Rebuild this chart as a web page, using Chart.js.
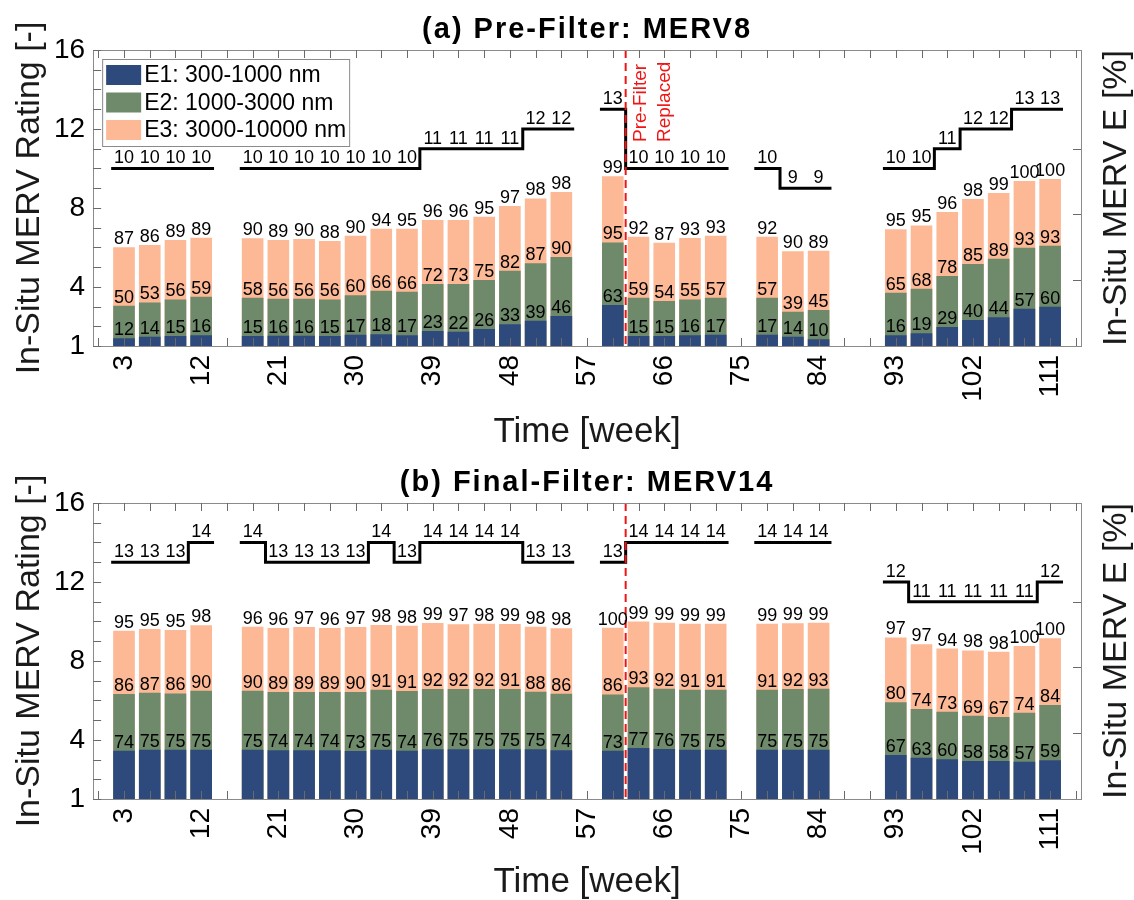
<!DOCTYPE html>
<html>
<head>
<meta charset="utf-8">
<script src="https://cdn.jsdelivr.net/npm/chart.js@4.4.1/dist/chart.umd.min.js"></script>
<style>
  body { margin: 0; background: #fff; }
  canvas { display: block; }
</style>
</head>
<body>
<canvas id="chartA" width="1134" height="450"></canvas>
<canvas id="chartB" width="1134" height="450"></canvas>
<script>
// weeks at which filters were measured (one bar per measurement)
var weeks = [3, 6, 9, 12, 18, 21, 24, 27, 30, 33, 36, 39, 42, 45, 48, 51, 54, 60, 63, 66, 69, 72, 78, 81, 84, 93, 96, 99, 102, 105, 108, 111];

// axis ticks
var xTickVals = [0, 3, 6, 9, 12, 15, 18, 21, 24, 27, 30, 33, 36, 39, 42, 45, 48, 51, 54, 57, 60, 63, 66, 69, 72, 75, 78, 81, 84, 87, 90, 93, 96, 99, 102, 105, 108, 111, 114];
var xLabelVals = [3, 12, 21, 30, 39, 48, 57, 66, 75, 84, 93, 102, 111];
var yTickVals = [1, 2, 3, 4, 5, 6, 7, 8, 9, 10, 11, 12, 13, 14, 15, 16];
var yLabelVals = [1, 4, 8, 12, 16];
var rightTickVals = [20, 40, 60]; // right axis (MERV E %), unlabeled
var replacedWeek = 61.5; // pre-filter replaced

// (a) Pre-Filter: bar tops on the rating axis
var topE1A = [1.39, 1.47, 1.50, 1.55, 1.50, 1.52, 1.52, 1.50, 1.57, 1.60, 1.55, 1.76, 1.72, 1.86, 2.10, 2.28, 2.52, 3.08, 1.50, 1.50, 1.54, 1.57, 1.57, 1.47, 1.34, 1.54, 1.64, 1.96, 2.32, 2.45, 2.89, 2.99];
var topE2A = [3.04, 3.21, 3.36, 3.50, 3.45, 3.40, 3.40, 3.36, 3.57, 3.80, 3.75, 4.14, 4.14, 4.34, 4.81, 5.19, 5.51, 6.25, 3.45, 3.28, 3.36, 3.45, 3.45, 2.74, 2.82, 3.70, 3.90, 4.55, 5.15, 5.42, 5.98, 6.08];
var topE3A = [6.00, 6.12, 6.37, 6.49, 6.46, 6.37, 6.42, 6.32, 6.59, 6.94, 6.94, 7.38, 7.38, 7.55, 8.09, 8.48, 8.80, 9.60, 6.54, 6.23, 6.47, 6.59, 6.54, 5.80, 5.83, 6.91, 7.11, 7.79, 8.45, 8.75, 9.36, 9.46];
// (a) efficiencies [%] printed on the bars
var e1LabA = [12, 14, 15, 16, 15, 16, 16, 15, 17, 18, 17, 23, 22, 26, 33, 39, 46, 63, 15, 15, 16, 17, 17, 14, 10, 16, 19, 29, 40, 44, 57, 60];
var e2LabA = [50, 53, 56, 59, 58, 56, 56, 56, 60, 66, 66, 72, 73, 75, 82, 87, 90, 95, 59, 54, 55, 57, 57, 39, 45, 65, 68, 78, 85, 89, 93, 93];
var e3LabA = [87, 86, 89, 89, 90, 89, 90, 88, 90, 94, 95, 96, 96, 95, 97, 98, 98, 99, 92, 87, 93, 93, 92, 90, 89, 95, 95, 96, 98, 99, 100, 100];
// (a) in-situ MERV rating
var mervA = [10, 10, 10, 10, 10, 10, 10, 10, 10, 10, 10, 11, 11, 11, 11, 12, 12, 13, 10, 10, 10, 10, 10, 9, 9, 10, 10, 11, 12, 12, 13, 13];

// (b) Final-Filter: bar tops on the rating axis
var topE1B = [3.45, 3.50, 3.50, 3.50, 3.50, 3.47, 3.47, 3.47, 3.43, 3.50, 3.45, 3.52, 3.52, 3.52, 3.52, 3.52, 3.47, 3.45, 3.58, 3.53, 3.50, 3.50, 3.50, 3.50, 3.50, 3.23, 3.09, 3.01, 2.92, 2.92, 2.89, 2.96];
var topE2B = [6.32, 6.39, 6.35, 6.49, 6.49, 6.42, 6.42, 6.42, 6.42, 6.54, 6.47, 6.57, 6.57, 6.57, 6.57, 6.44, 6.33, 6.30, 6.66, 6.59, 6.54, 6.54, 6.54, 6.57, 6.59, 5.90, 5.56, 5.42, 5.22, 5.15, 5.37, 5.76];
var topE3B = [9.53, 9.61, 9.56, 9.80, 9.73, 9.66, 9.71, 9.66, 9.71, 9.82, 9.78, 9.92, 9.85, 9.88, 9.87, 9.73, 9.65, 9.68, 9.99, 9.93, 9.88, 9.88, 9.88, 9.90, 9.93, 9.19, 8.84, 8.62, 8.53, 8.46, 8.75, 9.14];
var e1LabB = [74, 75, 75, 75, 75, 74, 74, 74, 73, 75, 74, 76, 75, 75, 75, 75, 74, 73, 77, 76, 75, 75, 75, 75, 75, 67, 63, 60, 58, 58, 57, 59];
var e2LabB = [86, 87, 86, 90, 90, 89, 89, 89, 90, 91, 91, 92, 92, 92, 91, 88, 86, 86, 93, 92, 91, 91, 91, 92, 93, 80, 74, 73, 69, 67, 74, 84];
var e3LabB = [95, 95, 95, 98, 96, 96, 97, 96, 97, 98, 98, 99, 97, 98, 99, 98, 98, 100, 99, 99, 99, 99, 99, 99, 99, 97, 97, 94, 98, 98, 100, 100];
var mervB = [13, 13, 13, 14, 14, 13, 13, 13, 13, 14, 13, 14, 14, 14, 14, 13, 13, 13, 14, 14, 14, 14, 14, 14, 14, 12, 11, 11, 11, 11, 11, 12];

var colE1 = '#2e4a7c';
var colE2 = '#6e8a6b';
var colE3 = '#fdb896';
var FONT = '"Liberation Sans", Arial, Helvetica, sans-serif';

function makeChart(id, panel) {
  // step line: flat over each bar, broken between measurement campaigns
  var steps = [];
  for (var i = 0; i < weeks.length; i++) {
    steps.push({x: weeks[i] - 1.5, y: panel.merv[i]});
    steps.push({x: weeks[i] + 1.5, y: panel.merv[i]});
    if (i < weeks.length - 1 && weeks[i + 1] - weeks[i] > 3) steps.push({x: weeks[i] + 2, y: null});
  }

  function bars(label, tops, color, order) {
    return {
      type: 'bar', label: label, yAxisID: 'y',
      data: weeks.map(function(w, i) { return {x: w, y: tops[i]}; }),
      backgroundColor: color, borderWidth: 0, base: 1, grouped: false,
      categoryPercentage: 1, barPercentage: 0.84, order: order
    };
  }

  var decor = {
    id: 'decor',
    afterDatasetsDraw: function(chart) {
      var ctx = chart.ctx, a = chart.chartArea;
      var xs = chart.scales.x, ys = chart.scales.y, y2 = chart.scales.y2;
      ctx.save();

      // red dashed replacement line
      var rx = xs.getPixelForValue(replacedWeek);
      ctx.strokeStyle = '#f01515'; ctx.lineWidth = 2; ctx.setLineDash([8, 5]);
      ctx.beginPath(); ctx.moveTo(rx, a.top); ctx.lineTo(rx, a.bottom); ctx.stroke();
      ctx.setLineDash([]);

      // frame + inward ticks
      ctx.strokeStyle = '#8a8a8a'; ctx.lineWidth = 1;
      ctx.strokeRect(Math.round(a.left) + 0.5, Math.round(a.top) + 0.5, Math.round(a.right - a.left), Math.round(a.bottom - a.top));
      ctx.strokeStyle = '#6a6a6a';
      ctx.beginPath();
      xTickVals.forEach(function(v) {
        var px = Math.round(xs.getPixelForValue(v)) + 0.5;
        ctx.moveTo(px, a.bottom); ctx.lineTo(px, a.bottom - 8);
        ctx.moveTo(px, a.top); ctx.lineTo(px, a.top + 8);
      });
      yTickVals.forEach(function(v) {
        var py = Math.round(ys.getPixelForValue(v)) + 0.5;
        ctx.moveTo(a.left, py); ctx.lineTo(a.left + 8, py);
      });
      rightTickVals.forEach(function(v) {
        var py = Math.round(y2.getPixelForValue(v)) + 0.5;
        ctx.moveTo(a.right, py); ctx.lineTo(a.right - 8, py);
      });
      ctx.stroke();

      // value labels on bars
      ctx.fillStyle = '#000';
      ctx.font = '18px ' + FONT;
      ctx.textAlign = 'center';
      ctx.textBaseline = 'alphabetic';
      [panel.lab1, panel.lab2, panel.lab3].forEach(function(labs, di) {
        var meta = chart.getDatasetMeta(di);
        meta.data.forEach(function(el, j) {
          ctx.fillText(String(labs[j]), el.x, el.y - 3);
        });
      });
      // MERV rating labels over the step line
      weeks.forEach(function(w, i) {
        ctx.fillText(String(panel.merv[i]), xs.getPixelForValue(w), ys.getPixelForValue(panel.merv[i]) - 5);
      });

      // panel title
      ctx.save();
      ctx.font = 'bold 29px ' + FONT;
      ctx.letterSpacing = '2px';
      ctx.textBaseline = 'middle';
      ctx.fillText(panel.title, (a.left + a.right) / 2, a.top - 20);
      ctx.restore();

      // right axis title
      ctx.save();
      ctx.translate(a.right + 36, (a.top + a.bottom) / 2);
      ctx.rotate(-Math.PI / 2);
      ctx.font = '34px ' + FONT;
      ctx.fillStyle = '#1a1a1a';
      ctx.textAlign = 'center';
      ctx.textBaseline = 'middle';
      ctx.fillText('In-Situ MERV E [%]', 0, 0);
      ctx.restore();

      if (panel.note) {
        ctx.fillStyle = '#f01515';
        ctx.font = '19px ' + FONT;
        ctx.textAlign = 'left';
        ctx.textBaseline = 'middle';
        [['Pre-Filter', 15], ['Replaced', 39]].forEach(function(t) {
          ctx.save();
          ctx.translate(rx + t[1], a.top + 92);
          ctx.rotate(-Math.PI / 2);
          ctx.fillText(t[0], 0, 0);
          ctx.restore();
        });
      }

      if (panel.legend) {
        var lx = a.left + 9, ly = a.top + 9;
        ctx.fillStyle = '#fff';
        ctx.fillRect(lx, ly, 247, 87);
        ctx.strokeStyle = '#8a8a8a';
        ctx.strokeRect(lx + 0.5, ly + 0.5, 247, 87);
        ctx.font = '23px ' + FONT;
        ctx.textAlign = 'left';
        ctx.textBaseline = 'middle';
        for (var k = 0; k < 3; k++) {
          var ds = chart.data.datasets[k];
          var cy = ly + 16 + k * 27.5;
          ctx.fillStyle = ds.backgroundColor;
          ctx.fillRect(lx + 4, cy - 10, 35, 20);
          ctx.fillStyle = '#000';
          ctx.fillText(ds.label, lx + 42, cy + 1);
        }
      }
      ctx.restore();
    }
  };

  return new Chart(document.getElementById(id), {
    type: 'bar',
    data: {
      datasets: [
        bars('E1: 300-1000 nm', panel.top1, colE1, 2),
        bars('E2: 1000-3000 nm', panel.top2, colE2, 3),
        bars('E3: 3000-10000 nm', panel.top3, colE3, 4),
        {type: 'line', label: 'MERV', yAxisID: 'y', data: steps, borderColor: '#000', borderWidth: 3,
         pointRadius: 0, spanGaps: false, tension: 0, order: 1}
      ]
    },
    options: {
      responsive: false,
      animation: false,
      devicePixelRatio: 1,
      layout: {padding: {left: 8, right: 53, top: panel.padTop, bottom: 0}},
      plugins: {legend: {display: false}, tooltip: {enabled: false}},
      scales: {
        x: {
          type: 'linear', min: -0.6, max: 114.6, offset: false,
          grid: {display: false, drawTicks: false}, border: {display: false},
          afterBuildTicks: function(s) { s.ticks = xTickVals.map(function(v) { return {value: v}; }); },
          ticks: {autoSkip: false, minRotation: 90, maxRotation: 90, padding: 9, color: '#000',
                  font: {size: 28, family: FONT},
                  callback: function(v) { return xLabelVals.indexOf(v) >= 0 ? String(v) : ''; }},
          title: {display: true, text: 'Time [week]', color: '#1a1a1a', font: {size: 35, family: FONT, lineHeight: 1},
                  padding: {top: panel.xTitlePad, bottom: 0}}
        },
        y: {
          min: 1, max: 16,
          grid: {display: false, drawTicks: false}, border: {display: false},
          afterBuildTicks: function(s) { s.ticks = yTickVals.map(function(v) { return {value: v}; }); },
          ticks: {autoSkip: false, padding: 8, color: '#000', font: {size: 28, family: FONT},
                  callback: function(v) { return yLabelVals.indexOf(v) >= 0 ? String(v) : ''; }},
          title: {display: true, text: 'In-Situ MERV Rating [-]', color: '#1a1a1a', font: {size: 34, family: FONT, lineHeight: 1},
                  padding: {top: 5, bottom: -1}}
        },
        y2: {position: 'right', min: 0, max: 90, display: false}
      }
    },
    plugins: [decor]
  });
}

makeChart('chartA', {
  title: '(a) Pre-Filter: MERV8', top1: topE1A, top2: topE2A, top3: topE3A,
  lab1: e1LabA, lab2: e2LabA, lab3: e3LabA, merv: mervA,
  padTop: 50, xTitlePad: 4.3, note: true, legend: true
});
makeChart('chartB', {
  title: '(b) Final-Filter: MERV14', top1: topE1B, top2: topE2B, top3: topE3B,
  lab1: e1LabB, lab2: e2LabB, lab3: e3LabB, merv: mervB,
  padTop: 53, xTitlePad: 1.3, note: false, legend: false
});
</script>
</body>
</html>
